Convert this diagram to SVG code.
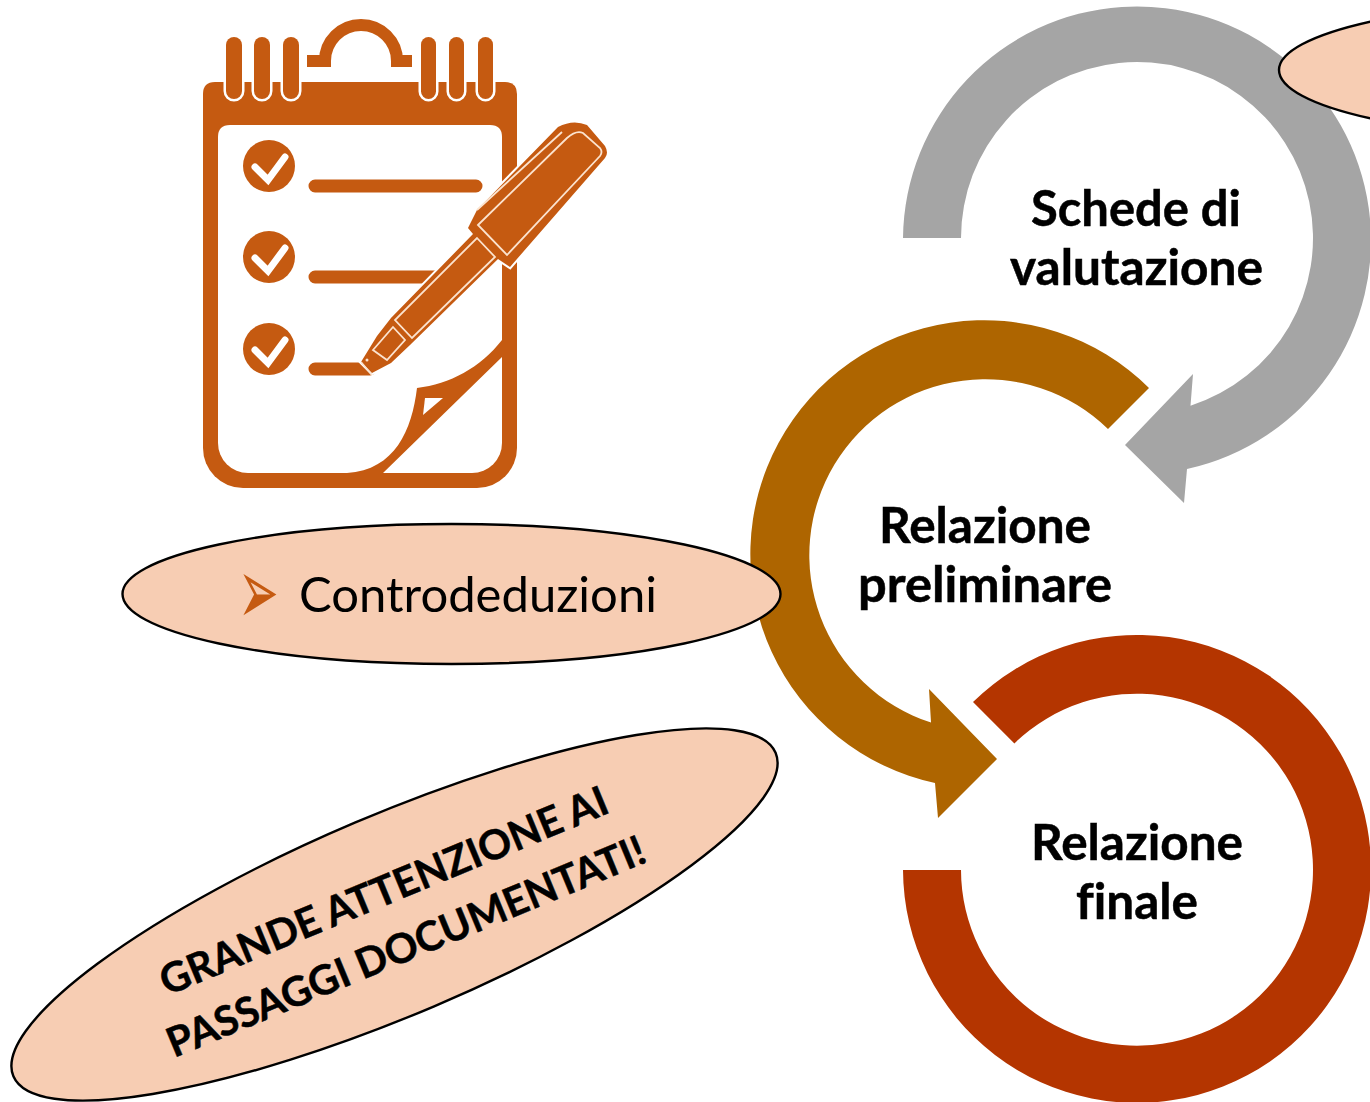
<svg xmlns="http://www.w3.org/2000/svg" width="1370" height="1102" viewBox="0 0 1370 1102">
<style>
text{font-variant-ligatures:none}
.lb{font-family:Lato,"Noto Sans",sans-serif;font-weight:700;font-size:50px;fill:#000;stroke:#000;stroke-width:.5;text-anchor:middle}
.tl{font-family:Lato,"Noto Sans",sans-serif;font-weight:700;font-size:41px;fill:#000;stroke:#000;stroke-width:.5}
.ell{fill:#F7CDB3;stroke:#000;stroke-width:2.4}
.ic{fill:#C55A11}
.ln{fill:none;stroke:#C55A11;stroke-width:13;stroke-linecap:round}
.ck{fill:none;stroke:#FFF;stroke-width:7;stroke-linecap:round;stroke-linejoin:miter}
.pl{fill:none;stroke:#FBE3CF;stroke-width:1.8}
.bar{fill:#C55A11;stroke:#FFF;stroke-width:5;paint-order:stroke}
</style>
<rect width="1370" height="1102" fill="#FFF"/>
<g id="connectors">
<path id="arrow-gray" fill="#A5A5A5" d="M903,238A234,234 0 1 1 1187,469L1184,503L1125,445L1193,374L1190.5,405.7A176,176 0 1 0 961,238Z"/>
<path id="arrow-brown" fill="#AE6500" d="M1149,388A234,234 0 1 0 935,783L938,818L997,759L929,689L931,722.6A176,176 0 1 1 1108,429Z"/>
<path id="arc-red" fill="#B43500" d="M973,702A234,234 0 1 1 903,870L961,870A176,176 0 1 0 1014.4,743.4Z"/>
</g>
<g id="node-schede"><text class="lb" x="1136" y="226" textLength="210" lengthAdjust="spacingAndGlyphs">Schede di</text><text class="lb" x="1136.5" y="285" textLength="253" lengthAdjust="spacingAndGlyphs">valutazione</text></g>
<g id="node-preliminare"><text class="lb" x="985" y="543" textLength="212" lengthAdjust="spacingAndGlyphs">Relazione</text><text class="lb" x="985" y="602" textLength="254" lengthAdjust="spacingAndGlyphs">preliminare</text></g>
<g id="node-finale"><text class="lb" x="1137" y="860" textLength="212" lengthAdjust="spacingAndGlyphs">Relazione</text><text class="lb" x="1137" y="919" textLength="122" lengthAdjust="spacingAndGlyphs">finale</text></g>
<g id="ellipse-topright"><ellipse class="ell" cx="1608" cy="70" rx="329" ry="70"/></g>
<g id="ellipse-controdeduzioni"><ellipse class="ell" cx="451.5" cy="594" rx="329" ry="70"/>
<text transform="translate(238 624.4) scale(1.28 2.47)" font-family="DejaVu Sans,sans-serif" font-size="38" fill="#C55A11">➢</text>
<text x="299" y="612" font-family="Lato,'Noto Sans',sans-serif" font-size="48" fill="#000" textLength="358" lengthAdjust="spacingAndGlyphs">Controdeduzioni</text></g>
<g id="ellipse-attenzione"><ellipse class="ell" cx="394.5" cy="914.5" rx="414" ry="100" transform="rotate(-23 394.5 914.5)"/>
<text class="tl" transform="translate(167 996) rotate(-22.5)" textLength="481" lengthAdjust="spacingAndGlyphs">GRANDE ATTENZIONE AI</text>
<text class="tl" transform="translate(174 1058) rotate(-22.5)" textLength="514" lengthAdjust="spacingAndGlyphs">PASSAGGI DOCUMENTATI!</text></g>
<g id="icon-notepad">
<path class="ic" d="M215,82H505Q517,82 517,94V448A40,40 0 0 1 477,488H243A40,40 0 0 1 203,448V94Q203,82 215,82Z"/>
<path fill="#FFF" d="M230,125H490Q502,125 502,137V443A30,30 0 0 1 472,473H248A30,30 0 0 1 218,443V137Q218,125 230,125Z"/>
<path class="ic" d="M502,340C480,368 450,384 417,388C412,430 395,470 347,473H383L502,357Z"/>
<path fill="#FFF" d="M423,415L443,398H425Z"/>
<path d="M307,61H325A36,36 0 0 1 397,61H412" fill="none" stroke="#C55A11" stroke-width="12"/>
<rect class="bar" x="226" y="37" width="16" height="62" rx="8"/><rect class="bar" x="254" y="37" width="16" height="62" rx="8"/><rect class="bar" x="283" y="37" width="16" height="62" rx="8"/>
<rect class="bar" x="421" y="37" width="15" height="62" rx="7.5"/><rect class="bar" x="449" y="37" width="15" height="62" rx="7.5"/><rect class="bar" x="478" y="37" width="15" height="62" rx="7.5"/>
<circle class="ic" cx="269" cy="166" r="26"/><circle class="ic" cx="269" cy="257" r="26"/><circle class="ic" cx="269" cy="349" r="26"/>
<path class="ck" d="M255,167L268,180L285,157"/><path class="ck" d="M255,258L268,271L285,248"/><path class="ck" d="M255,350L268,363L285,340"/>
<path class="ln" d="M315,186H476M315,277H440M315,369H370"/>
<path class="ic" stroke="#FFF" stroke-width="4" paint-order="stroke" d="M361,362L377,336L391,318L473,234L468,228L477,210L558,127Q573,119 587,125L605,146Q609,153 605,158L510,267L498,259L410,345L391,363L372,373Z"/>
<path class="pl" d="M478,225L567,138Q576,130 583,133L600,148Q603,152 600,156L507,255ZM477,210L562,132M477,238L495,257L412,338L395,320ZM393,327L405,340L387,360L373,350ZM361,362L372,375"/>
<circle cx="367" cy="360" r="1.5" fill="#FBE3CF"/>
</g>
</svg>
